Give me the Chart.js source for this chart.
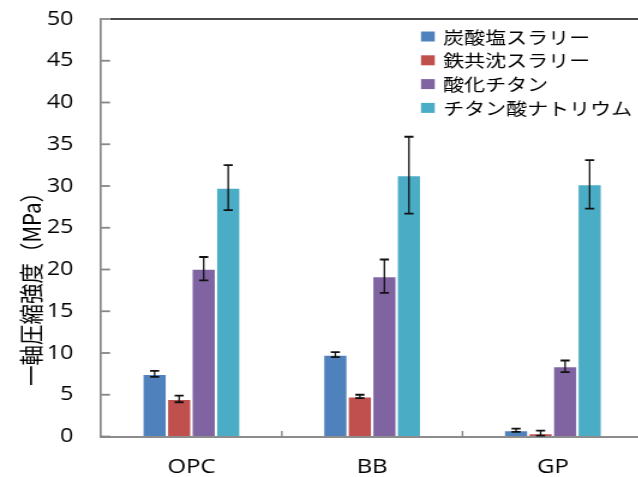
<!DOCTYPE html>
<html>
<head>
<meta charset="utf-8">
<script src="https://cdn.jsdelivr.net/npm/chart.js@4/dist/chart.umd.min.js"></script>
<style>
  html, body { margin: 0; padding: 0; overflow: hidden; background: #fff; width: 638px; height: 477px; }
  /* the chart is laid out narrow and widened horizontally, glyphs included */
  #wrap { position: absolute; left: 0; top: 0; width: 536px; height: 477px; transform: scaleX(1.2); transform-origin: 0 0; }
</style>
</head>
<body>
<div id="wrap"><canvas id="c" width="536" height="477"></canvas></div>
<script>
// Uniaxial compressive strength by cement type and adsorbent
const categories = ['OPC', 'BB', 'GP'];
const seriesNames = ['炭酸塩スラリー', '鉄共沈スラリー', '酸化チタン', 'チタン酸ナトリウム'];

const carbonateSlurry     = [7.5, 9.8, 0.75];
const carbonateSlurryErr  = [0.35, 0.3, 0.2];
const ironSlurry          = [4.5, 4.8, 0.4];
const ironSlurryErr       = [0.4, 0.2, 0.3];
const titania             = [20.1, 19.2, 8.4];
const titaniaErr          = [1.4, 2.0, 0.7];
const sodiumTitanate      = [29.8, 31.3, 30.2];
const sodiumTitanateErr   = [2.7, 4.6, 2.9];

const yMin = 0, yMax = 50, yStep = 5;
const yTitle = '一軸圧縮強度（MPa）';

const colors = ['#4F81BD', '#C0504D', '#8064A2', '#4BACC6'];
const values = [carbonateSlurry, ironSlurry, titania, sodiumTitanate];
const errors = [carbonateSlurryErr, ironSlurryErr, titaniaErr, sodiumTitanateErr];

const AXIS_W = 84.2;   // width reserved for the value axis
const XAXIS_H = 40.5;  // height reserved for the category axis

// Error bars drawn over each bar from the dataset's errors array
const errorBars = {
  id: 'errorBars',
  afterDatasetsDraw(chart) {
    const { ctx, scales: { y } } = chart;
    ctx.save();
    ctx.strokeStyle = '#111';
    chart.data.datasets.forEach((ds, i) => {
      const meta = chart.getDatasetMeta(i);
      meta.data.forEach((bar, j) => {
        const v = ds.data[j], e = ds.errors[j];
        const top = y.getPixelForValue(v + e);
        const bot = y.getPixelForValue(Math.max(0, v - e));
        const x = bar.x, cap = 3.8;
        ctx.lineWidth = 1.3;
        ctx.beginPath(); ctx.moveTo(x, top); ctx.lineTo(x, bot); ctx.stroke();
        ctx.lineWidth = 1.8;
        ctx.beginPath();
        ctx.moveTo(x - cap, top); ctx.lineTo(x + cap, top);
        ctx.moveTo(x - cap, bot); ctx.lineTo(x + cap, bot);
        ctx.stroke();
      });
    });
    ctx.restore();
  }
};

// Inner tick marks, top frame line, rotated axis title and the legend block
const decorations = {
  id: 'decorations',
  afterDraw(chart) {
    const { ctx, chartArea: a, scales: { x, y } } = chart;
    ctx.save();
    // top frame line
    ctx.strokeStyle = '#4a4a4a';
    ctx.lineWidth = 2;
    ctx.beginPath(); ctx.moveTo(a.left + 7.5, a.top); ctx.lineTo(a.right, a.top); ctx.stroke();
    // value axis ticks pointing inward
    ctx.strokeStyle = '#868686';
    ctx.lineWidth = 1.8;
    for (let v = yMin; v <= yMax; v += yStep) {
      const py = y.getPixelForValue(v);
      ctx.beginPath(); ctx.moveTo(a.left, py); ctx.lineTo(a.left + 7.5, py); ctx.stroke();
    }
    // category boundary ticks
    ctx.lineWidth = 1.4;
    const cat = x.getPixelForValue(1) - x.getPixelForValue(0);
    for (let i = 1; i < categories.length; i++) {
      const px = x.getPixelForValue(i) - cat / 2;
      ctx.beginPath(); ctx.moveTo(px, a.bottom); ctx.lineTo(px, a.bottom - 5.5); ctx.stroke();
    }
    // axis title
    ctx.fillStyle = '#000';
    ctx.font = "20.5px 'Noto Sans CJK JP'";
    ctx.textAlign = 'center';
    ctx.textBaseline = 'middle';
    ctx.translate(25.8, 284);
    ctx.rotate(-Math.PI / 2);
    ctx.fillText(yTitle, 0, 0);
    ctx.restore();

    // legend
    ctx.save();
    ctx.font = "17.5px 'Noto Sans CJK JP'";
    ctx.textAlign = 'left';
    ctx.textBaseline = 'middle';
    const rows = [36.5, 60.3, 84.1, 107.9];
    chart.data.datasets.forEach((ds, i) => {
      const cy = rows[i];
      ctx.fillStyle = ds.backgroundColor;
      ctx.fillRect(350.8, cy - 5, 11.5, 10);
      ctx.fillStyle = '#000';
      ctx.fillText(ds.label, 369.2, cy + 0.5);
    });
    ctx.restore();
  }
};

Chart.defaults.font.family = "'Open Sans', sans-serif";
Chart.defaults.color = '#000';

new Chart(document.getElementById('c'), {
  type: 'bar',
  data: {
    labels: categories,
    datasets: seriesNames.map((name, i) => ({
      label: name,
      data: values[i],
      errors: errors[i],
      backgroundColor: colors[i],
      borderColor: 'rgba(255,255,255,0.45)',
      borderWidth: 1,
      borderSkipped: 'bottom',
      categoryPercentage: 0.543,
      barPercentage: 1.0
    }))
  },
  options: {
    responsive: false,
    animation: false,
    devicePixelRatio: 1,
    layout: { padding: { top: 19, right: 0, bottom: 0, left: 0 } },
    plugins: { legend: { display: false }, tooltip: { enabled: false } },
    scales: {
      x: {
        grid: { display: true, drawOnChartArea: false, drawTicks: false },
        border: { display: true, color: '#8c8c8c', width: 2 },
        ticks: { font: { size: 20 }, padding: 19, color: '#000' },
        afterFit(s) { s.height = XAXIS_H; s.paddingLeft = 0; s.paddingRight = 0; }
      },
      y: {
        min: yMin, max: yMax,
        grid: { display: true, drawOnChartArea: false, drawTicks: false },
        border: { display: true, color: '#868686', width: 1.7 },
        ticks: { stepSize: yStep, font: { size: 19.5 }, padding: 23, color: '#000' },
        afterFit(s) { s.width = AXIS_W; s.paddingTop = 0; s.paddingBottom = 0; }
      }
    }
  },
  plugins: [errorBars, decorations]
});
</script>
</body>
</html>
